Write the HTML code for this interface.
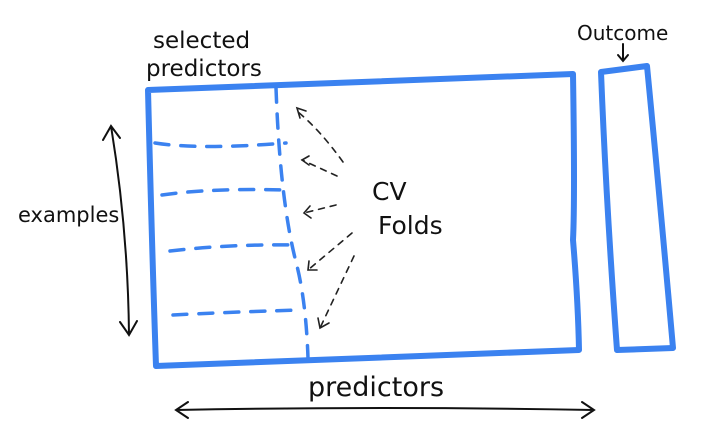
<!DOCTYPE html>
<html><head><meta charset="utf-8"><style>
html,body{margin:0;padding:0;background:#fff;width:715px;height:448px;overflow:hidden}
text{font-family:"DejaVu Sans","Liberation Sans",sans-serif;fill:#111}
</style></head><body>
<svg width="715" height="448" viewBox="0 0 715 448">
<g fill="none" stroke="#3b82f0" stroke-width="6" stroke-linecap="round" stroke-linejoin="round">
<path d="M148,90 L573,74 Q575,200 573,240 Q578,300 579,350 L156,366 Q152,250 148,90 Z"/>
<path d="M601,72 L647,66 Q660,200 673,348 L617,350 Q606,200 601,72 Z"/>
</g>
<g fill="none" stroke="#3b82f0" stroke-width="3.5" stroke-dasharray="14,12" stroke-linecap="round">
<path d="M276,88 Q280,200 296,262 Q306,300 308,358"/>
<path d="M155,143 Q200,150 286,143"/>
<path d="M162,195 Q210,188 286,190"/>
<path d="M170,251 Q230,244 295,245"/>
<path d="M173,315 Q230,312 300,310"/>
</g>
<g fill="none" stroke="#222" stroke-width="1.6" stroke-linecap="round">
<path stroke-dasharray="6,6" d="M343,162 Q320,130 298,112"/><path d="M306,111 L297,108 L300,118"/>
<path stroke-dasharray="6,6" d="M337,176 L302,160"/><path d="M309,156 L302,160 L309,165"/>
<path stroke-dasharray="6,6" d="M336,205 L304,213"/><path d="M310,206 L304,213 L311,218"/>
<path stroke-dasharray="6,6" d="M352,233 L308,270"/><path d="M309,261 L308,270 L317,270"/>
<path stroke-dasharray="6,6" d="M354,256 L320,328"/><path d="M318,318 L320,328 L329,323"/>
</g>
<g fill="none" stroke="#111" stroke-width="2" stroke-linecap="round">
<path d="M111,126 Q128,230 129,335 M103,140 L111,126 L120,138 M120,322 L129,335 L137,321"/>
<path d="M176,410 Q380,406 594,410 M188,402 L176,410 L188,418 M582,402 L594,410 L582,418"/>
<path d="M623,44 L623,60 M618,55 L623,61 L628,55"/>
</g>
<text x="153" y="48" font-size="23">selected</text>
<text x="146" y="76" font-size="23">predictors</text>
<text x="577" y="40" font-size="20">Outcome</text>
<text x="18" y="222" font-size="21">examples</text>
<text x="372" y="200" font-size="25">CV</text>
<text x="378" y="234" font-size="25">Folds</text>
<text x="308" y="396" font-size="27">predictors</text>
</svg>
</body></html>
